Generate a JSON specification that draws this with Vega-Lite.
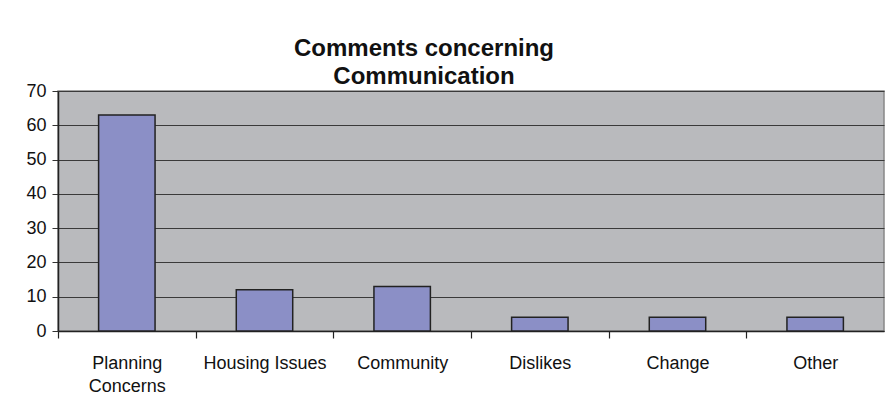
{
  "$schema": "https://vega.github.io/schema/vega-lite/v6.json",
  "autosize": "none",
  "width": 826,
  "height": 240,
  "padding": {"left": 58, "top": 91, "right": 5, "bottom": 78},
  "background": "white",
  "title": {
    "text": ["Comments concerning", "Communication"],
    "font": "Liberation Sans",
    "fontSize": 24,
    "fontWeight": "bold",
    "color": "#111111",
    "lineHeight": 28,
    "anchor": "middle",
    "dx": -47,
    "offset": -7
  },
  "data": {
    "values": [
      {"category": "Planning Concerns", "count": 63},
      {"category": "Housing Issues", "count": 12},
      {"category": "Community", "count": 13},
      {"category": "Dislikes", "count": 4},
      {"category": "Change", "count": 4},
      {"category": "Other", "count": 4}
    ]
  },
  "mark": {"type": "bar", "fill": "#8b8fc6", "stroke": "#222222", "strokeWidth": 1.5},
  "encoding": {
    "x": {
      "field": "category",
      "type": "nominal",
      "sort": null,
      "scale": {"paddingInner": 0.59, "paddingOuter": 0.295},
      "axis": {
        "title": null,
        "labelAngle": 0,
        "labelFont": "Liberation Sans",
        "labelFontSize": 18,
        "labelColor": "#111111",
        "labelPadding": 16,
        "labelLineHeight": 23,
        "labelOffset": 68.83,
        "labelExpr": "datum.value == 'Planning Concerns' ? ['Planning', 'Concerns'] : datum.value",
        "ticks": true,
        "tickOffset": -68.83,
        "tickSize": 7,
        "tickWidth": 1.2,
        "tickColor": "#222222",
        "domainColor": "#222222",
        "domainWidth": 1.5
      }
    },
    "y": {
      "field": "count",
      "type": "quantitative",
      "scale": {"domain": [0, 70], "nice": false},
      "axis": {
        "title": null,
        "values": [0, 10, 20, 30, 40, 50, 60, 70],
        "labelFont": "Liberation Sans",
        "labelFontSize": 18,
        "labelColor": "#111111",
        "labelPadding": 6,
        "tickSize": 6,
        "tickColor": "#333333",
        "domainColor": "#222222",
        "domainWidth": 1.5,
        "grid": true,
        "gridColor": "#3a3a3a",
        "gridWidth": 1.2
      }
    }
  },
  "config": {
    "view": {"fill": "#b9babd", "stroke": "#888888", "strokeWidth": 1.5}
  }
}
